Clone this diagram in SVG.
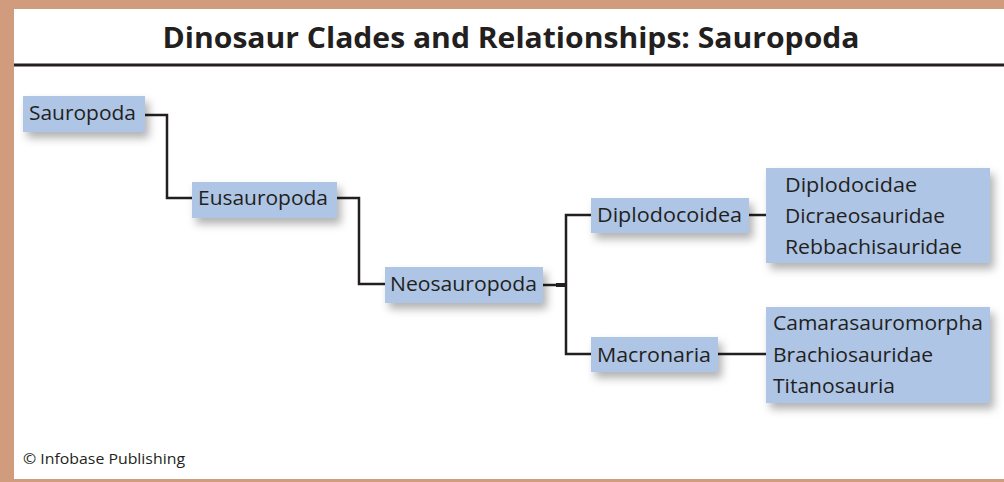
<svg xmlns="http://www.w3.org/2000/svg" width="1004" height="482" viewBox="0 0 1004 482">
<defs>
<filter id="sh" x="-20%" y="-30%" width="150%" height="180%">
<feDropShadow dx="4" dy="6" stdDeviation="4" flood-color="#000" flood-opacity="0.3"/>
</filter>
<style>
.box{fill:#AEC5E6;filter:url(#sh)}
.t{font-family:"Open Sans","Liberation Sans",sans-serif;font-size:19.5px;fill:#231F20}
.c{fill:none;stroke:#231F20;stroke-width:2.5}
</style>
</defs>
<rect x="0" y="0" width="1004" height="482" fill="#D19B7D"/>
<rect x="14" y="9" width="990" height="470" fill="#FFFFFF"/>
<text x="511" y="48" text-anchor="middle" font-family="'Open Sans','Liberation Sans',sans-serif" font-weight="bold" font-size="29" fill="#231F20" textLength="697" lengthAdjust="spacingAndGlyphs">Dinosaur Clades and Relationships: Sauropoda</text>
<line x1="14" y1="65" x2="1004" y2="65" stroke="#231F20" stroke-width="3"/>
<g id="connectors">
<polyline class="c" points="145,115 167,115 167,198 192,198"/>
<polyline class="c" points="337,198 359,198 359,284 385,284"/>
<line class="c" x1="543" y1="285" x2="566" y2="285"/>
<line x1="556" y1="285" x2="566" y2="285" stroke="#231F20" stroke-width="4"/>
<polyline class="c" points="591,215 566,215 566,354 591,354"/>
<line class="c" x1="749" y1="215" x2="766" y2="215"/>
<line class="c" x1="718" y1="354" x2="766" y2="354"/>
</g>
<g id="n-sauropoda"><rect class="box" x="23" y="96" width="122" height="36"/><text class="t" x="29" y="120" textLength="107" lengthAdjust="spacingAndGlyphs">Sauropoda</text></g>
<g id="n-eusauropoda"><rect class="box" x="192" y="182" width="145" height="36"/><text class="t" x="198" y="205" textLength="130" lengthAdjust="spacingAndGlyphs">Eusauropoda</text></g>
<g id="n-neosauropoda"><rect class="box" x="385" y="267" width="158" height="36"/><text class="t" x="390" y="291" textLength="147" lengthAdjust="spacingAndGlyphs">Neosauropoda</text></g>
<g id="n-diplodocoidea"><rect class="box" x="591" y="198" width="158" height="35"/><text class="t" x="597" y="222" textLength="145" lengthAdjust="spacingAndGlyphs">Diplodocoidea</text></g>
<g id="n-macronaria"><rect class="box" x="591" y="337" width="127" height="35"/><text class="t" x="597" y="362" textLength="114" lengthAdjust="spacingAndGlyphs">Macronaria</text></g>
<g id="n-diplo-families"><rect class="box" x="766" y="168" width="224" height="95"/>
<text class="t" x="785" y="192" textLength="132" lengthAdjust="spacingAndGlyphs">Diplodocidae</text>
<text class="t" x="785" y="223" textLength="160" lengthAdjust="spacingAndGlyphs">Dicraeosauridae</text>
<text class="t" x="785" y="254" textLength="177" lengthAdjust="spacingAndGlyphs">Rebbachisauridae</text></g>
<g id="n-macro-families"><rect class="box" x="766" y="307" width="224" height="96"/>
<text class="t" x="773" y="330" textLength="210" lengthAdjust="spacingAndGlyphs">Camarasauromorpha</text>
<text class="t" x="773" y="362" textLength="160" lengthAdjust="spacingAndGlyphs">Brachiosauridae</text>
<text class="t" x="773" y="393" textLength="122" lengthAdjust="spacingAndGlyphs">Titanosauria</text></g>
<text x="23" y="464" font-family="'Open Sans','Liberation Sans',sans-serif" font-size="15" fill="#231F20" textLength="162" lengthAdjust="spacingAndGlyphs">© Infobase Publishing</text>
</svg>
